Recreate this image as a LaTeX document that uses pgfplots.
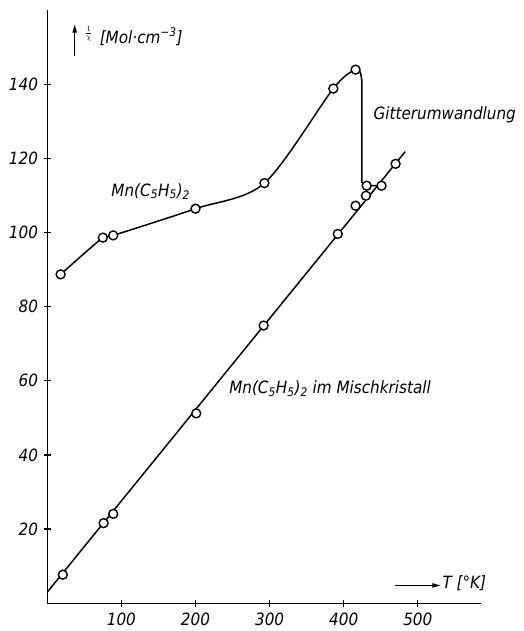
\documentclass[border=0pt]{standalone}
\usepackage{fontspec}
\setmainfont{DejaVu Sans Condensed}
\usepackage{pgfplots}
\pgfplotsset{compat=1.18}
\usetikzlibrary{arrows.meta}
\begin{document}
\fontsize{17}{20}\selectfont\itshape
\begin{tikzpicture}
\begin{axis}[
 scale only axis, width=435.5pt, height=596pt,
 xmin=0, xmax=585, ymin=0, ymax=160,
 axis x line=bottom, axis y line=left,
 axis line style={-, line width=1.4pt},
 xtick={100,200,300,400,500}, ytick={20,40,60,80,100,120,140},
 tick align=center, major tick length=7pt, tick style={line width=1.2pt, black},
 tick label style={font=\fontsize{17}{19}\selectfont\itshape},
 /pgf/number format/assume math mode=true,
 clip=false,
]
% Mn(C5H5)2 smooth curve
\addplot[black, line width=1.5pt, smooth, no marks] coordinates {
 (18,88.7) (75,98.6) (89,99.2) (200,106.4) (293,113.3) (386,138.8) (416,143.9) (423,142.8)
};
% transition drop
\addplot[black, line width=1.5pt, no marks] coordinates {
 (423,142.8) (424.5,141) (424.5,113.5) (431,112.6) (451,112.6)
};
% Mischkristall straight line
\addplot[black, line width=1.5pt, no marks] coordinates {
 (0,3) (483,121.8)
};
% marks of upper series
\addplot[only marks, mark=*, mark size=4.5pt, mark options={line width=1.4pt, fill=white, draw=black}] coordinates {
 (18,88.7) (75,98.6) (89,99.2) (200,106.4) (293,113.3) (386,138.8) (416,143.9) (431,112.6) (451,112.6)
};
% marks of Mischkristall series
\addplot[only marks, mark=*, mark size=4.5pt, mark options={line width=1.4pt, fill=white, draw=black}] coordinates {
 (21,7.7) (76,21.6) (89,24.1) (201,51.2) (292,74.9) (392,99.6) (416,107.2) (430,109.9) (470,118.5)
};
% labels
\draw[-{Latex[length=9pt,width=5pt]}, line width=1.2pt] (axis cs:37,147.7) -- (axis cs:37,156.3);
\node at (axis cs:56,153.6) {\(\scriptstyle\frac{1}{\chi}\)};
\node[anchor=west, inner sep=0pt] at (axis cs:70.6,152.8) {[Mol·cm\textsuperscript{−3}]};
\draw[-{Latex[length=9pt,width=5pt]}, line width=1.2pt] (axis cs:469.8,4.8) -- (axis cs:531.7,4.8);
\node[anchor=west, inner sep=1pt] at (axis cs:531.7,5.5) {T [°K]};
\node[anchor=west, inner sep=0pt] at (axis cs:440,131.6) {Gitterumwandlung};
\node[anchor=west, inner sep=0pt] at (axis cs:86.3,111.1) {Mn(C\textsubscript{5}H\textsubscript{5})\textsubscript{2}};
\node[anchor=west, inner sep=0pt] at (axis cs:245.3,57.9) {Mn(C\textsubscript{5}H\textsubscript{5})\textsubscript{2} im Mischkristall};
\end{axis}
\path (current axis.south west) ++(-47.5pt,-25pt) rectangle ++(526pt,631pt);
\end{tikzpicture}
\end{document}
